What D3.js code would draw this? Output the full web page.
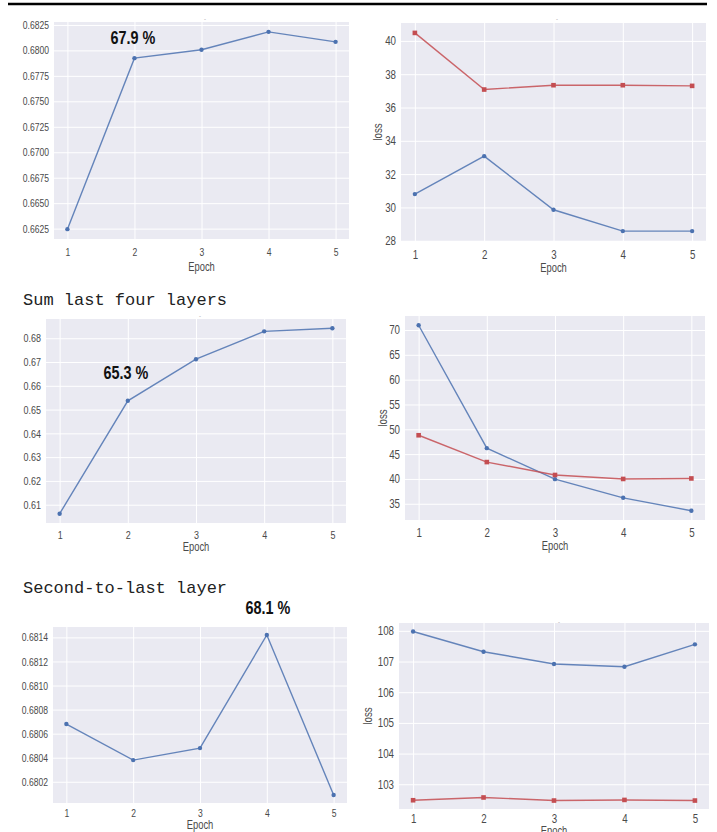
<!DOCTYPE html>
<html><head><meta charset="utf-8">
<script src="https://cdn.jsdelivr.net/npm/d3@7"></script>
<style>
html,body{margin:0;padding:0;background:#fff;}
svg{display:block;}
.tick text{font-family:"Liberation Sans",Arial,sans-serif;fill:#4a4a4a;}
</style></head>
<body>
<svg id="chart" width="717" height="832"></svg>
<script>
// ---------- data ----------
const epochs = [1, 2, 3, 4, 5];
const xTicks = [1, 2, 3, 4, 5];

// top row (last layer)
const accTop = [0.66245, 0.67924, 0.68006, 0.68182, 0.68084];
const lossTopBlue = [30.8, 33.08, 29.86, 28.58, 28.58];
const lossTopRed = [40.48, 37.08, 37.34, 37.34, 37.30];
const accTopTicks = [0.6625, 0.6650, 0.6675, 0.6700, 0.6725, 0.6750, 0.6775, 0.6800, 0.6825];
const lossTopTicks = [28, 30, 32, 34, 36, 38, 40];
const accTopLabel = "67.9 %";

// middle row (sum last four layers)
const accSum = [0.6062, 0.6537, 0.6712, 0.6829, 0.6842];
const lossSumBlue = [70.95, 46.2, 39.96, 36.2, 33.6];
const lossSumRed = [48.8, 43.4, 40.8, 40.0, 40.1];
const accSumTicks = [0.61, 0.62, 0.63, 0.64, 0.65, 0.66, 0.67, 0.68];
const lossSumTicks = [35, 40, 45, 50, 55, 60, 65, 70];
const accSumLabel = "65.3 %";

// bottom row (second-to-last layer)
const accSecond = [0.68068, 0.68038, 0.68048, 0.68142, 0.68009];
const lossSecondBlue = [107.98, 107.32, 106.92, 106.83, 107.56];
const lossSecondRed = [102.48, 102.57, 102.47, 102.49, 102.47];
const accSecondTicks = [0.6802, 0.6804, 0.6806, 0.6808, 0.6810, 0.6812, 0.6814];
const lossSecondTicks = [103, 104, 105, 106, 107, 108];
const accSecondLabel = "68.1 %";

const headings = ["Sum last four layers", "Second-to-last layer"];

// ---------- layout ----------
const BLUE = "#4C72B0", RED = "#C44E52";
const SX = 0.78; // horizontal squeeze of the narrow label font
const svg = d3.select("#chart");

svg.append("line").attr("x1", 8).attr("x2", 707).attr("y1", 4).attr("y2", 4)
  .attr("stroke", "#000").attr("stroke-width", 2.5);

const panels = [
  {box:[54,349,22,239], series:[{v:accTop,c:BLUE,m:"circle"}], ticks:accTopTicks, fmt:".4f", fs:11,
   xlabDy:13, epochDy:28, ylab:null, note:{t:accTopLabel,x:133,y:44}, dash:[205,19]},
  {box:[401,706,23,241], series:[{v:lossTopRed,c:RED,m:"square"},{v:lossTopBlue,c:BLUE,m:"circle"}], ticks:lossTopTicks, fmt:"d", fs:12.5,
   xlabDy:13, epochDy:27, ylab:{x:382}, dash:[557,19]},
  {box:[46,346,319,523], series:[{v:accSum,c:BLUE,m:"circle"}], ticks:accSumTicks, fmt:".2f", fs:11.5,
   xlabDy:12, epochDy:24, ylab:null, note:{t:accSumLabel,x:126,y:379}, dash:[200,316]},
  {box:[405,705,316,520], series:[{v:lossSumBlue,c:BLUE,m:"circle"},{v:lossSumRed,c:RED,m:"square"}], ticks:lossSumTicks, fmt:"d", fs:12.5,
   xlabDy:12, epochDy:26, ylab:{x:387}},
  {box:[53,347,627,803], series:[{v:accSecond,c:BLUE,m:"circle"}], ticks:accSecondTicks, fmt:".4f", fs:11,
   xlabDy:10, epochDy:22, ylab:null, note:{t:accSecondLabel,x:268,y:614}},
  {box:[399,709,623,809], series:[{v:lossSecondBlue,c:BLUE,m:"circle"},{v:lossSecondRed,c:RED,m:"square"}], ticks:lossSecondTicks, fmt:"d", fs:12.5,
   xlabDy:9, epochDy:22, ylab:{x:372}, dash:[559,622]}
];

function narrowText(sel, x, y, size, txt, opts = {}) {
  return sel.append("text")
    .attr("transform", `translate(${x},${y}) ${opts.rotate ? "rotate(-90)" : ""} scale(${opts.sx || SX},1)`)
    .attr("text-anchor", "middle")
    .attr("font-family", '"Liberation Sans",Arial,sans-serif')
    .attr("font-weight", opts.bold ? "bold" : "normal")
    .attr("font-size", size).attr("fill", opts.fill || "#4a4a4a").text(txt);
}

panels.forEach(p => {
  const [x0,x1,y0,y1] = p.box;
  const all = p.series.flatMap(s => s.v);
  const [mn, mx] = d3.extent(all);
  const pad = (mx - mn) * 0.05;
  const x = d3.scaleLinear().domain([0.8, 5.2]).range([x0, x1]);
  const y = d3.scaleLinear().domain([mn - pad, mx + pad]).range([y1, y0]);
  const g = svg.append("g");
  g.append("rect").attr("x", x0).attr("y", y0).attr("width", x1 - x0).attr("height", y1 - y0).attr("fill", "#EAEAF2");

  const yAx = g.append("g").attr("transform", `translate(${x0},0)`)
    .call(d3.axisLeft(y).tickValues(p.ticks).tickFormat(d3.format(p.fmt)).tickSize(-(x1 - x0)).tickPadding(5));
  const xAx = g.append("g").attr("transform", `translate(0,${y1})`)
    .call(d3.axisBottom(x).tickValues(xTicks).tickFormat(d3.format("d")).tickSize(-(y1 - y0)).tickPadding(p.xlabDy - 4));
  [yAx, xAx].forEach(a => {
    a.select(".domain").remove();
    a.selectAll(".tick line").attr("stroke", "#fff").attr("stroke-width", 1);
    a.selectAll(".tick text").attr("font-size", p.fs).each(function() {
      const t = d3.select(this);
      const tx = +t.attr("x") || 0;
      t.attr("x", tx / SX).attr("transform", `scale(${SX},1)`);
    });
  });

  const line = d3.line().x((d, i) => x(epochs[i])).y(d => y(d));
  p.series.forEach(s => {
    g.append("path").datum(s.v).attr("d", line).attr("fill", "none")
      .attr("stroke", s.c).attr("stroke-width", 1.4).attr("stroke-opacity", 0.85);
    if (s.m === "circle") {
      g.selectAll(null).data(s.v).enter().append("circle")
        .attr("cx", (d, i) => x(epochs[i])).attr("cy", d => y(d)).attr("r", 2.2).attr("fill", s.c);
    } else {
      g.selectAll(null).data(s.v).enter().append("rect")
        .attr("x", (d, i) => x(epochs[i]) - 2.3).attr("y", d => y(d) - 2.3)
        .attr("width", 4.6).attr("height", 4.6).attr("fill", s.c);
    }
  });

  narrowText(g, (x0 + x1) / 2, y1 + p.epochDy + 4, 12, "Epoch");
  if (p.ylab) {
    narrowText(g, p.ylab.x, (y0 + y1) / 2, 12.5, "loss", {rotate: true});
  }
  if (p.note) {
    narrowText(g, p.note.x, p.note.y, 18, p.note.t, {bold: true, fill: "#111", sx: 0.8});
  }
  if (p.dash) {
    g.append("text").attr("x", p.dash[0]).attr("y", p.dash[1] + 1.5).attr("text-anchor", "middle")
      .attr("font-family", "Liberation Sans,sans-serif").attr("font-size", 6).attr("fill", "#999").text("-");
  }
});

// section headings
const headY = [305, 593];
headings.forEach((h, i) => {
  svg.append("text").attr("x", 23).attr("y", headY[i])
    .attr("font-family", '"Liberation Mono","DejaVu Sans Mono",monospace')
    .attr("font-size", 17).attr("fill", "#222").text(h);
});
</script>
</body></html>
